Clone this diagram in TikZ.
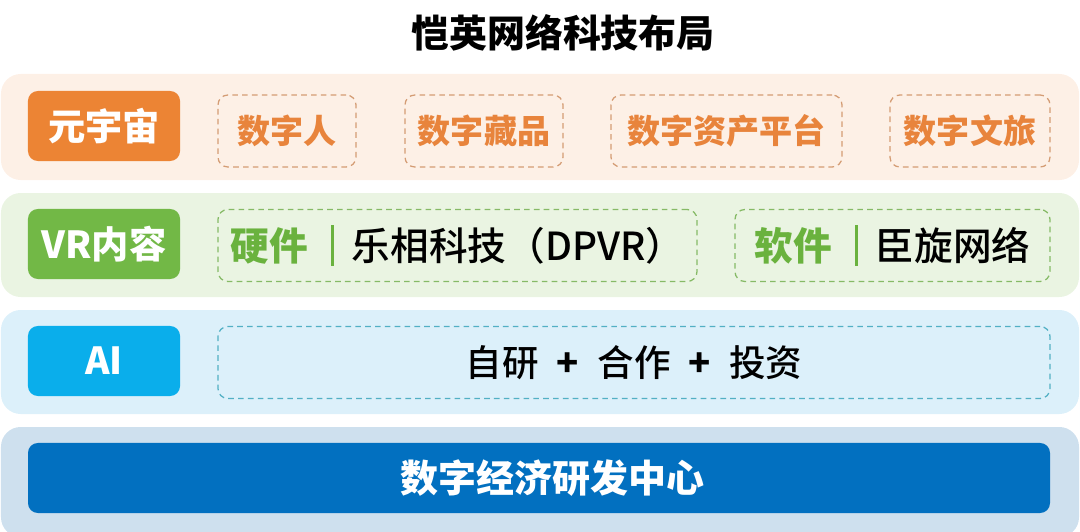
\documentclass[tikz,border=0pt]{standalone}
\usepackage{fontspec}
\setmainfont{Noto Sans CJK SC}
\newfontfamily\cjkmed{Noto Sans CJK SC}[UprightFont={* Medium}]
\usepackage{xcolor}
\usepackage{tikz}
\usetikzlibrary{positioning}

\definecolor{peachbg}{HTML}{FDF0E6}
\definecolor{orangelbl}{HTML}{EC8434}
\definecolor{orangetxt}{HTML}{E8843C}
\definecolor{orangedash}{HTML}{D49C74}
\definecolor{greenbg}{HTML}{EAF4E2}
\definecolor{greenlbl}{HTML}{72B846}
\definecolor{greentxt}{HTML}{6AB23E}
\definecolor{greendash}{HTML}{86BA66}
\definecolor{bluebg}{HTML}{DCF0FA}
\definecolor{ailbl}{HTML}{0AAEEB}
\definecolor{bluedash}{HTML}{52B0C4}
\definecolor{navybg}{HTML}{CEE0EE}
\definecolor{navybox}{HTML}{0270C0}

\newcommand\vbar{\hspace{0.6em}{\color{greentxt}\rule[-0.15em]{2.2pt}{1.05em}}\hspace{0.45em}}
\newcommand\plussep{\hspace{0.5em}{\normalfont\bfseries +}\hspace{0.5em}}

\begin{document}
\begin{tikzpicture}[x=0.025cm,y=-0.025cm,
    band/.style={fill=#1,rounded corners=14pt},
    lbl/.style={fill=#1,rounded corners=7pt,text=white,inner sep=0pt,
        font=\bfseries\fontsize{26.5}{26.5}\selectfont,
        minimum width=3.8cm,minimum height=1.75cm},
    dbox/.style={draw=#1,dashed,dash pattern=on 4pt off 3pt,line width=0.9pt,
        rounded corners=7pt,inner sep=0pt,minimum height=1.8cm}]

\useasboundingbox (0,0) rectangle (1080,532);

\node[font=\bfseries\fontsize{27}{27}\selectfont] (title) at (563,33) {恺英网络科技布局};

\def\y{74}
\fill[band=peachbg] (1,\y) rectangle (1079,\y+106);
\node[lbl=orangelbl] (meta) at (104,\y+52) {元宇宙};
    \foreach \name/\xl/\xr/\txt in {human/218/356/数字人,nft/405/563/数字藏品,
        asset/611/842/数字资产平台,travel/890/1050/数字文旅}
    {
        \node[dbox=orangedash,minimum width={(\xr-\xl)*0.025cm},text=orangetxt,
            font=\bfseries\fontsize{23.5}{23.5}\selectfont]
            (\name) at ({(\xl+\xr)/2},\y+57) {\txt};
    }

\def\y{193}
\fill[band=greenbg] (1,\y) rectangle (1079,\y+104);
\node[lbl=greenlbl] (vr) at (104,\y+51) {VR内容};
\node[dbox=greendash,minimum width={479*0.025cm},font=\cjkmed\fontsize{27.5}{27.5}\selectfont]
    (hard) at (457.5,\y+52.5) {{\normalfont\bfseries\color{greentxt}硬件}\vbar 乐相科技（DPVR）};
\node[dbox=greendash,minimum width={315*0.025cm},font=\cjkmed\fontsize{27.5}{27.5}\selectfont]
    (soft) at (892.5,\y+52.5) {{\normalfont\bfseries\color{greentxt}软件}\vbar 臣旋网络};

\def\y{310}
\fill[band=bluebg] (1,\y) rectangle (1079,\y+104);
\node[lbl=ailbl] (ai) at (104,\y+51) {AI};
\node[dbox=bluedash,minimum width={832*0.025cm},font=\cjkmed\fontsize{26}{26}\selectfont]
    (aiways) at (634,\y+52.5) {自研\plussep 合作\plussep 投资};

\def\y{427}
\fill[band=navybg] (1,\y) rectangle (1079,\y+110);
\node[lbl=navybox,minimum width={1022*0.025cm},font=\bfseries\fontsize{27}{27}\selectfont]
    (center) at (539,\y+51) {\hspace*{0.7em}数字经济研发中心};

\end{tikzpicture}
\end{document}
